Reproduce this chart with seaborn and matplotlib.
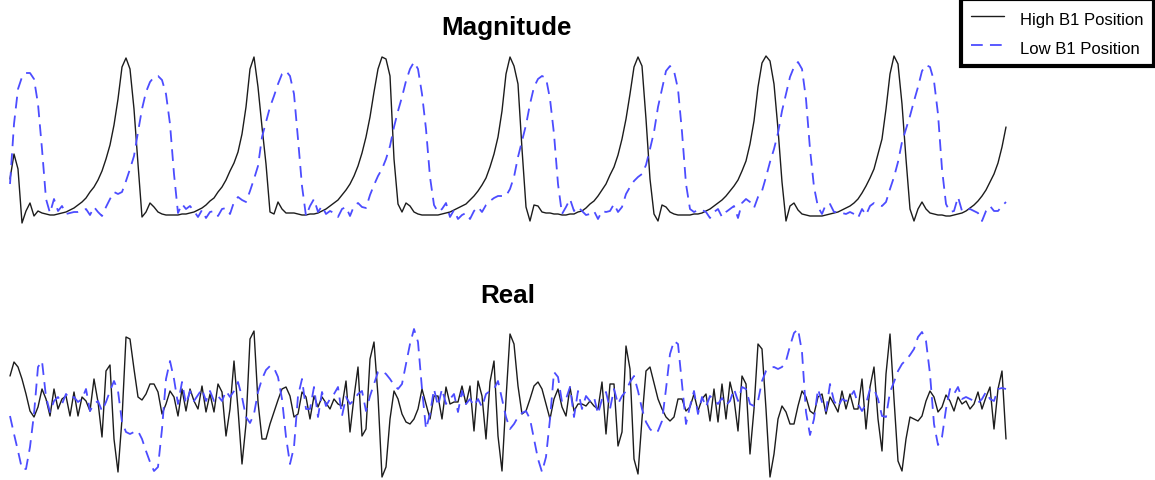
import numpy as np
import pandas as pd
import matplotlib
matplotlib.use("Agg")
import matplotlib.pyplot as plt
import seaborn as sns

# ---- data (arbitrary units, one sample per step) ----
mag_high = [46,71,56,2,14,22,9,14,12,11,
            10,10,11,12,13,15,17,20,23,27,
            33,38,45,54,66,80,100,126,158,167,
            156,116,61,8,13,22,18,13,11,10,
            10,10,10,11,11,12,13,15,17,20,
            24,27,33,38,45,54,62,73,91,118,
            156,168,138,98,61,13,11,23,16,12,
            12,12,11,10,10,11,11,12,14,16,
            19,22,25,30,35,41,49,59,72,88,
            108,133,156,168,166,149,66,21,13,22,
            19,13,11,10,10,10,10,10,11,12,
            13,15,17,19,21,25,29,34,40,47,
            58,71,88,114,151,168,159,141,76,18,
            4,20,19,13,12,12,11,11,10,10,
            11,11,13,14,17,21,24,29,35,41,
            50,58,70,86,106,131,158,168,159,106,
            46,11,4,20,18,13,11,10,10,10,
            10,11,11,12,14,16,19,22,25,29,
            34,39,45,54,64,81,104,138,162,169,
            164,141,96,43,4,19,22,15,11,10,
            9,9,9,9,10,11,12,13,15,17,
            19,22,26,32,39,47,56,71,86,116,
            151,169,161,121,66,16,4,16,23,16,
            12,11,10,10,9,9,10,11,12,14,
            17,20,24,29,35,43,51,62,78,98]

mag_low = [41,101,136,148,152,152,146,121,76,26,
           12,26,14,19,11,12,13,13,14,16,
           10,18,13,9,18,26,33,31,33,44,
           56,69,93,116,133,143,148,149,145,131,
           101,51,12,21,16,19,14,8,15,7,
           13,14,9,16,17,11,23,28,25,23,
           34,46,59,88,103,118,129,141,151,154,
           149,131,86,39,9,19,26,13,19,11,
           14,12,8,16,18,9,19,22,18,17,
           30,40,49,56,66,79,98,114,128,144,
           156,163,156,131,96,48,20,13,16,22,
           8,15,6,10,12,6,14,18,13,20,
           24,27,29,29,29,36,48,68,84,100,
           121,138,146,149,147,126,91,41,11,18,
           26,14,18,14,10,11,14,6,14,13,
           14,21,13,18,31,38,44,48,51,60,
           76,93,118,136,154,159,154,136,93,41,
           16,13,15,15,13,7,13,16,8,13,
           16,19,7,22,26,23,17,28,34,48,
           63,76,92,114,131,148,158,163,156,126,
           76,38,18,11,21,21,13,13,12,11,
           13,11,7,16,10,19,22,20,19,23,
           36,48,63,83,96,109,124,138,154,160,
           158,144,111,56,21,13,14,28,14,15,
           16,14,12,4,14,19,14,14,19,23]

real_high = [23,37,32,20,5,-12,-18,-8,10,0,
             -17,10,-10,0,3,-17,7,-17,2,-2,
             -12,20,-3,-38,28,34,-40,-73,-20,62,
             60,30,2,-1,5,15,15,7,-15,-5,
             8,2,-17,10,-12,10,-2,-10,13,-13,
             5,-13,15,7,-37,-10,38,-10,-65,-25,
             60,68,-3,-40,-40,-25,-13,-1,10,12,
             3,-18,-15,7,2,-20,3,-8,2,-4,
             -10,0,-5,-7,18,-33,2,32,-37,-30,
             40,57,3,-78,-68,-20,8,0,-15,-23,
             -25,-20,-10,10,-5,-20,3,3,-20,12,
             -5,-3,-3,13,-5,13,-32,18,3,-40,
             17,38,-37,-72,0,65,55,13,-15,-12,
             0,13,17,10,-5,-20,0,10,-8,-17,
             12,-12,-5,-5,-7,-2,-7,-10,17,-35,
             15,15,-47,-33,53,30,-60,-75,-20,28,
             32,16,0,-10,-18,-22,-18,0,0,-12,
             -8,5,-12,0,5,-22,10,-23,15,-20,
             17,0,-32,23,15,-55,-10,55,50,-10,
             -78,-55,-20,-7,-13,-25,-25,-7,8,2,
             -12,-15,2,5,-15,2,-5,-13,8,-10,
             5,-10,-10,20,-30,12,32,-20,-52,25,
             65,0,-62,-72,-40,-18,-20,-22,-17,-2,
             8,2,-13,-8,4,-2,-12,2,-5,-2,
             -10,-5,7,-10,2,12,-30,10,28,-40]

real_low = [-17,-35,-52,-70,-70,-48,-15,32,38,2,
            -13,-2,2,-5,5,0,2,-3,0,10,
            -12,-5,-2,-12,-3,8,18,8,-23,-33,
            -35,-33,-32,-40,-52,-63,-72,-68,-30,20,
            38,20,-5,17,-5,8,-2,4,10,-2,
            8,-2,3,-2,8,2,8,17,2,-18,
            -24,-15,7,20,29,33,31,22,0,-38,
            -65,-48,3,20,-10,-10,12,-18,7,-7,
            0,5,12,-17,2,-5,-1,5,8,-12,
            3,15,27,28,25,20,14,10,15,35,
            55,70,57,10,-30,-15,10,-7,10,-5,
            0,5,-13,8,-5,0,-7,0,-8,5,
            8,10,18,0,-18,-30,-25,-18,-14,-12,
            -20,-40,-60,-73,-58,-20,27,22,-3,0,
            12,-18,8,-10,3,-2,2,-15,0,7,
            -10,10,-5,3,8,17,23,8,-10,-23,
            -30,-34,-32,-22,10,45,58,55,15,-25,
            -7,8,-15,2,-8,3,-1,-5,1,-6,
            -2,10,-2,12,10,-5,-7,-2,18,28,
            31,32,30,32,38,53,66,70,47,-13,
            -36,-20,10,-3,-12,15,-2,-8,0,-2,
            2,8,-5,-12,-5,10,10,0,-17,-18,
            7,17,28,35,39,44,50,62,67,58,
            25,-25,-46,-38,-10,10,5,12,0,2,
            0,-2,-4,0,7,0,-2,10,11,10]

series_labels = ["High B1 Position", "Low B1 Position"]
panel_titles = ["Magnitude", "Real"]

# ---- styling ----
sns.set_style("white")
plt.rcParams["font.family"] = ["Liberation Sans", "DejaVu Sans"]
plt.rcParams["text.color"] = "black"

W, H = 1155, 481
fig = plt.figure(figsize=(W / 100, H / 100), dpi=100)

def px_axes(left, top, right, bottom):
    return fig.add_axes([left / W, 1 - bottom / H, (right - left) / W, (bottom - top) / H])

ax_mag = px_axes(8, 52, 1008, 230)
ax_real = px_axes(8, 322, 1008, 480)

black = "#1c1c1c"
blue = "#4c4cff"

def draw(ax, hi, lo, ylim):
    sns.lineplot(x=np.arange(len(hi)), y=np.asarray(hi, float), ax=ax, color=black,
                 lw=1.0, label=series_labels[0], legend=False)
    sns.lineplot(x=np.arange(len(lo)), y=np.asarray(lo, float), ax=ax, color=blue,
                 lw=1.3, label=series_labels[1], legend=False)
    ax.lines[1].set_dashes((6.5, 4))
    ax.set_xlim(-0.5, 249.5)
    ax.set_ylim(*ylim)
    ax.axis("off")

draw(ax_mag, mag_high, mag_low, (-4, 174))
draw(ax_real, real_high, real_low, (-80, 78))

fig.text(506 / W, 1 - 28 / H, panel_titles[0], ha="center", va="center",
         fontsize=18.7, fontweight="bold", color="black")
fig.text(508 / W, 1 - 296 / H, panel_titles[1], ha="center", va="center",
         fontsize=18.7, fontweight="bold", color="black")

handles = ax_mag.lines[:2]
leg = fig.legend(handles, series_labels, loc="upper right",
                 bbox_to_anchor=(1154 / W, 1.0), fontsize=12, frameon=True,
                 fancybox=False, edgecolor="black", framealpha=1.0,
                 handlelength=2.0, handleheight=1.35, handletextpad=1.0,
                 labelspacing=0.6, borderpad=0.6, borderaxespad=0.0)
leg.get_frame().set_linewidth(3)
for t in leg.get_texts():
    t.set_color("black")

fig.savefig("out.png", dpi=100)
